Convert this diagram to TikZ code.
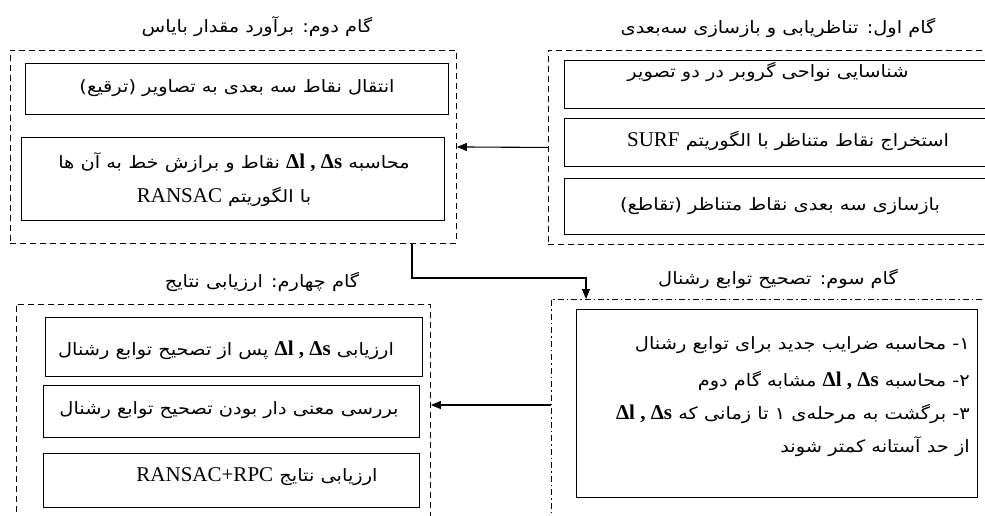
\documentclass[tikz,border=0pt]{standalone}
\usepackage{fontspec}
\setmainfont{Liberation Serif}
\newfontfamily\faFont[Script=Arabic, FakeStretch=1.14]{DejaVu Sans}
\TeXXeTstate=1
\usetikzlibrary{arrows.meta}
\newcommand\LatinRun[1]{\beginL{\rmfamily\fontsize{21}{24}\selectfont #1}\endL}
\newcommand\DeltaRun[1]{\beginL{\rmfamily\bfseries\fontsize{21}{24}\selectfont #1}\endL}
\newcommand\RL[1]{\beginR #1\endR}
\tikzset{
  grp/.style={draw, dash pattern=on 6pt off 4pt, line width=0.9pt, inner sep=0pt, anchor=north west},
  grpdd/.style={draw, dash pattern=on 6pt off 3pt on 1.5pt off 3pt, line width=0.9pt, inner sep=0pt, anchor=north west},
  stepbox/.style={draw, line width=1.2pt, inner sep=0pt, anchor=north west},
  fatext/.style={font=\faFont\fontsize{17}{20}\selectfont, inner sep=0pt},
  ttl/.style={fatext},
  arr/.style={-{Triangle[length=10pt,width=8pt]}, line width=1.1pt},
}
\begin{document}
\begin{tikzpicture}[x=1pt,y=-1pt]
\useasboundingbox (0,0) rectangle (985,515);
\clip (0,0) rectangle (985,515);
% ---- group 1
\node[ttl] (ti1) at (778,28) {\RL{گام اول: تناظریابی و بازسازی سه‌بعدی}};
\node[grp, minimum width=460pt, minimum height=194pt] (g1) at (548,50) {};
\node[stepbox, minimum width=440pt, minimum height=48pt] (b1a) at (564,60) {};
\node[stepbox, minimum width=440pt, minimum height=48pt] (b1b) at (564,118) {};
\node[stepbox, minimum width=440pt, minimum height=56pt] (b1c) at (564,178) {};
\node[fatext] (t1a) at (768,72) {\RL{شناسایی نواحی گروبر در دو تصویر}};
\node[fatext] (t1b) at (788,141) {\RL{استخراج نقاط متناظر با الگوریتم \LatinRun{SURF}}};
\node[fatext] (t1c) at (780,206) {\RL{بازسازی سه بعدی نقاط متناظر (تقاطع)}};
% ---- group 2
\node[ttl] (ti2) at (257,27) {\RL{گام دوم: برآورد مقدار بایاس}};
\node[grp, minimum width=446pt, minimum height=193pt] (g2) at (10,50) {};
\node[stepbox, minimum width=423pt, minimum height=51pt] (b2a) at (25,63) {};
\node[stepbox, minimum width=423pt, minimum height=83pt] (b2b) at (21,137) {};
\node[fatext] (t2a) at (237,88) {\RL{انتقال نقاط سه بعدی به تصاویر (ترقیع)}};
\node[fatext] (t2b1) at (234,163) {\RL{محاسبه \DeltaRun{Δl , Δs} نقاط و برازش خط به آن ها}};
\node[fatext] (t2b2) at (224,197) {\RL{با الگوریتم \LatinRun{RANSAC}}};
% ---- group 3
\node[ttl] (ti3) at (778,279) {\RL{گام سوم: تصحیح توابع رشنال}};
\node[grpdd, minimum width=460pt, minimum height=240pt] (g3) at (551,299) {};
\node[stepbox, minimum width=401pt, minimum height=188pt] (b3) at (576,309) {};
\node[fatext, anchor=east] (t3a) at (970,345) {\RL{۱- محاسبه ضرایب جدید برای توابع رشنال}};
\node[fatext, anchor=east] (t3b) at (970,381) {\RL{۲- محاسبه \DeltaRun{Δl , Δs} مشابه گام دوم}};
\node[fatext, anchor=east] (t3c) at (970,414) {\RL{۳- برگشت به مرحله‌ی ۱ تا زمانی که \DeltaRun{Δl , Δs}}};
\node[fatext, anchor=east] (t3d) at (970,447) {\RL{از حد آستانه کمتر شوند}};
% ---- group 4
\node[ttl] (ti4) at (262,282) {\RL{گام چهارم: ارزیابی نتایج}};
\node[grp, minimum width=414pt, minimum height=240pt] (g4) at (16,304) {};
\node[stepbox, minimum width=377pt, minimum height=59pt] (b4a) at (45,317) {};
\node[stepbox, minimum width=376pt, minimum height=52pt] (b4b) at (43,385) {};
\node[stepbox, minimum width=376pt, minimum height=54pt] (b4c) at (43,453) {};
\node[fatext] (t4a) at (226,350) {\RL{ارزیابی \DeltaRun{Δl , Δs} پس از تصحیح توابع رشنال}};
\node[fatext] (t4b) at (229,410) {\RL{بررسی معنی دار بودن تصحیح توابع رشنال}};
\node[fatext] (t4c) at (257,477) {\RL{ارزیابی نتایج \LatinRun{RANSAC+RPC}}};
% ---- connectors
\draw[arr] (g1.west) -- (g2.east);
\coordinate (k1) at (412,278);
\coordinate (k2) at (586,278);
\draw[arr] (k1 |- g2.south) -- (k1) -- (k2) -- (k2 |- g3.north);
\coordinate (s3) at (551,405);
\draw[arr] (s3) -- (s3 -| g4.east);
\end{tikzpicture}
\end{document}
